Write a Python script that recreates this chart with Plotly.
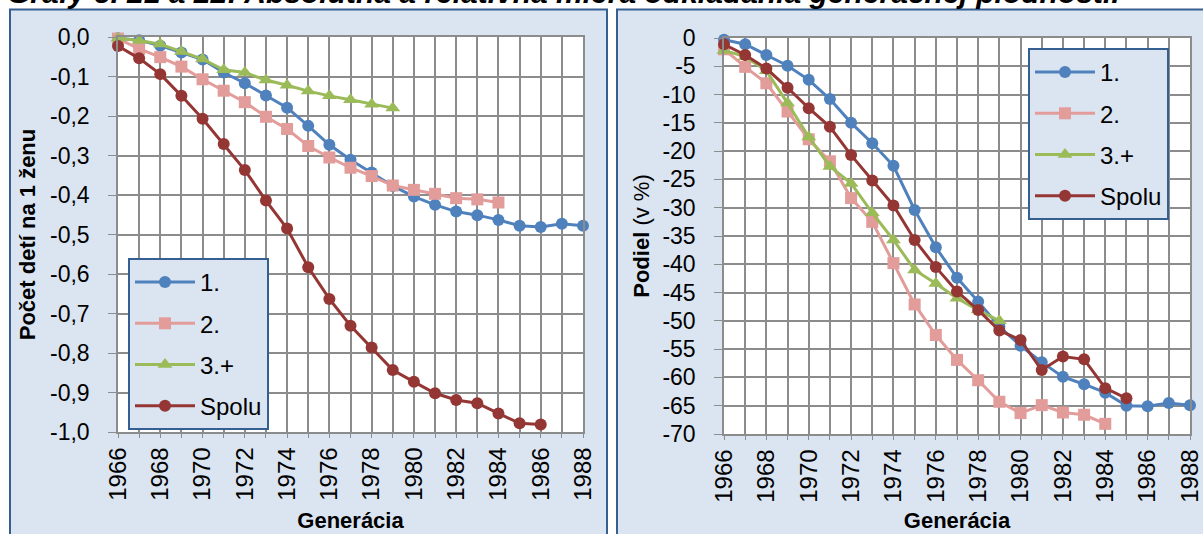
import plotly.graph_objects as go

W, H = 1203, 534

years = list(range(1966, 1989))
names = ["1.", "2.", "3.+", "Spolu"]
colors = ["#4F81BD", "#E29C9A", "#9BBB59", "#943634"]
symbols = ["circle", "square", "triangle-up", "circle"]

# absolutna miera (pocet deti na 1 zenu)
abs_1 = [-0.003, -0.008, -0.022, -0.039, -0.057, -0.09, -0.117, -0.148, -0.179, -0.225,
         -0.273, -0.311, -0.343, -0.377, -0.404, -0.425, -0.442, -0.451, -0.463, -0.478,
         -0.481, -0.473, -0.478]
abs_2 = [-0.004, -0.03, -0.051, -0.075, -0.107, -0.136, -0.165, -0.202, -0.233, -0.276,
         -0.305, -0.331, -0.352, -0.376, -0.387, -0.397, -0.408, -0.411, -0.419]
abs_3 = [-0.003, -0.009, -0.018, -0.037, -0.056, -0.083, -0.09, -0.109, -0.122, -0.137,
         -0.149, -0.159, -0.17, -0.18]
abs_spolu = [-0.023, -0.054, -0.094, -0.149, -0.207, -0.271, -0.337, -0.414, -0.485, -0.583,
             -0.663, -0.731, -0.786, -0.843, -0.873, -0.902, -0.919, -0.927, -0.953, -0.978,
             -0.981]

# relativna miera (v %)
rel_1 = [-0.3, -1.1, -3.0, -4.9, -7.4, -10.8, -15.0, -18.6, -22.6, -30.4,
         -37.0, -42.4, -46.6, -51.0, -54.4, -57.3, -59.9, -61.2, -62.7, -65.0,
         -65.1, -64.5, -64.9]
rel_2 = [-2.0, -5.1, -8.0, -13.0, -17.9, -21.8, -28.3, -32.5, -39.8, -47.1,
         -52.5, -56.9, -60.5, -64.3, -66.3, -64.9, -66.2, -66.6, -68.2]
rel_3 = [-2.2, -3.3, -5.8, -11.5, -17.5, -22.7, -25.7, -30.9, -35.7, -41.0,
         -43.4, -46.0, -48.1, -50.0]
rel_spolu = [-1.1, -3.0, -5.4, -8.8, -12.4, -15.7, -20.7, -25.2, -29.6, -35.7,
             -40.5, -44.8, -48.1, -51.7, -53.4, -58.7, -56.3, -56.8, -61.9, -63.7]

abs_ticks = [0, -0.1, -0.2, -0.3, -0.4, -0.5, -0.6, -0.7, -0.8, -0.9, -1.0]
abs_ticktext = ["0,0", "-0,1", "-0,2", "-0,3", "-0,4", "-0,5", "-0,6", "-0,7", "-0,8", "-0,9", "-1,0"]
rel_ticks = list(range(0, -71, -5))
rel_ticktext = [str(v) for v in rel_ticks]
year_ticks = list(range(1966, 1989, 2))

title_text = "Grafy č. 21 a 22: Absolútna a relatívna miera odkladania generačnej plodnosti."

FONT = "Liberation Sans, Arial, sans-serif"
GRID = "#8C8C8C"
PANEL = "#DBE5F1"
BORDER = "#365F91"


def px_x(p):
    return p / W


def px_y(p):
    return 1 - p / H


fig = go.Figure()

left = [abs_1, abs_2, abs_3, abs_spolu]
right = [rel_1, rel_2, rel_3, rel_spolu]

for i, name in enumerate(names):
    msize = 12 if symbols[i] != "triangle-up" else 13
    fig.add_trace(go.Scatter(
        x=years[:len(left[i])], y=left[i], name=name, mode="lines+markers",
        line=dict(color=colors[i], width=3),
        marker=dict(symbol=symbols[i], size=msize, color=colors[i]),
        xaxis="x", yaxis="y", legend="legend", legendgroup="l" + name,
        cliponaxis=False,
    ))
for i, name in enumerate(names):
    msize = 12 if symbols[i] != "triangle-up" else 13
    fig.add_trace(go.Scatter(
        x=years[:len(right[i])], y=right[i], name=name, mode="lines+markers",
        line=dict(color=colors[i], width=3),
        marker=dict(symbol=symbols[i], size=msize, color=colors[i]),
        xaxis="x2", yaxis="y2", legend="legend2", legendgroup="r" + name,
        cliponaxis=False,
    ))

xcommon = dict(
    range=[1966, 1988], tickvals=year_ticks, tickangle=-90,
    tickfont=dict(size=24, color="black", family=FONT),
    showgrid=True, gridcolor=GRID, gridwidth=1.5,
    minor=dict(dtick=1, tick0=1966, showgrid=True, gridcolor=GRID, gridwidth=1.5,
               ticks="outside", ticklen=4, tickcolor=GRID),
    ticks="outside", ticklen=4, tickcolor=GRID,
    showline=True, linecolor=GRID, linewidth=1.5, mirror=True,
    zeroline=False, ticklabelstandoff=0, automargin=False,
)
ycommon = dict(
    tickfont=dict(size=23, color="black", family=FONT),
    showgrid=True, gridcolor=GRID, gridwidth=1.5,
    ticks="outside", ticklen=8, tickcolor=GRID,
    showline=True, linecolor=GRID, linewidth=1.5, mirror=True,
    zeroline=False, ticklabelstandoff=14, automargin=False,
)

fig.update_layout(
    template="none",
    width=W, height=H,
    margin=dict(l=0, r=0, t=0, b=0, pad=0),
    paper_bgcolor="white", plot_bgcolor="white",
    font=dict(family=FONT, color="black"),
    separators=", ",
    xaxis=dict(xcommon, domain=[px_x(118), px_x(583)], anchor="y",
               title=dict(text="<b>Generácia</b>", font=dict(size=22), standoff=13)),
    yaxis=dict(ycommon, domain=[px_y(432), px_y(37)], anchor="x",
               range=[-1.0, 0.0], tickvals=abs_ticks, ticktext=abs_ticktext,
               title=dict(text="<b>Počet detí na 1 ženu</b>", font=dict(size=22), standoff=8)),
    xaxis2=dict(xcommon, domain=[px_x(724), px_x(1190)], anchor="y2",
                title=dict(text="<b>Generácia</b>", font=dict(size=22), standoff=11)),
    yaxis2=dict(ycommon, domain=[px_y(434), px_y(38)], anchor="x2",
                range=[-70, 0], tickvals=rel_ticks, ticktext=rel_ticktext,
                title=dict(text="<b>Podiel</b> (v %)", font=dict(size=22), standoff=7)),
    legend=dict(x=px_x(128), y=px_y(258), xanchor="left", yanchor="top",
                bgcolor=PANEL, bordercolor=BORDER, borderwidth=2,
                font=dict(size=24), tracegroupgap=7, itemwidth=60),
    legend2=dict(x=px_x(1028), y=px_y(48), xanchor="left", yanchor="top",
                 bgcolor=PANEL, bordercolor=BORDER, borderwidth=2,
                 font=dict(size=24), tracegroupgap=7, itemwidth=60),
    showlegend=True,
)

# panel backgrounds, then white plot areas on top of them
fig.add_shape(type="rect", xref="paper", yref="paper", layer="below",
              x0=px_x(10), x1=px_x(607), y0=px_y(560), y1=px_y(9.5),
              fillcolor=PANEL, line=dict(color=BORDER, width=2))
fig.add_shape(type="rect", xref="paper", yref="paper", layer="below",
              x0=px_x(617), x1=px_x(1230), y0=px_y(560), y1=px_y(9.5),
              fillcolor=PANEL, line=dict(color=BORDER, width=2))
fig.add_shape(type="rect", xref="x domain", yref="y domain", layer="below",
              x0=0, x1=1, y0=0, y1=1, fillcolor="white", line=dict(width=0))
fig.add_shape(type="rect", xref="x2 domain", yref="y2 domain", layer="below",
              x0=0, x1=1, y0=0, y1=1, fillcolor="white", line=dict(width=0))

# title is cut off at the top edge in the source picture
fig.add_annotation(text="<b><i>" + title_text + "</i></b>", xref="paper", yref="paper",
                   x=px_x(5), y=px_y(11), xanchor="left", yanchor="bottom",
                   showarrow=False, font=dict(size=30, color="black"))

# drop the default body margin so the figure sits at the page corner
fig.write_html("out.html", config={"displayModeBar": False},
               post_script="document.body.style.margin='0';")
